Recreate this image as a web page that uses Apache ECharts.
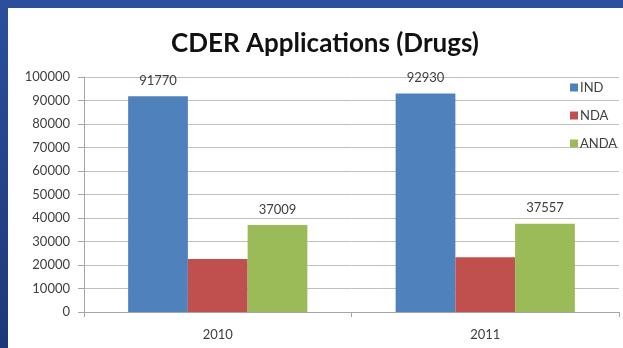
<!DOCTYPE html>
<html><head><meta charset="utf-8">
<script src="https://cdn.jsdelivr.net/npm/echarts@6/dist/echarts.min.js"></script>
<style>html,body{margin:0;padding:0;background:#fff;}#c{width:623px;height:348px;}</style>
</head><body><div id="c"></div>
<script>
const categories = ['2010', '2011'];
const seriesNames = ['IND', 'NDA', 'ANDA'];
const indValues = [91770, 92930];
const ndaValues = [22600, 23300];
const andaValues = [37009, 37557];
const showLabels = [true, false, true];
const colors = ['#4F81BD', '#C0504D', '#9BBB59'];
const allValues = [indValues, ndaValues, andaValues];

const chart = echarts.init(document.getElementById('c'), null, {renderer: 'canvas'});
const txt = '#404040';
chart.setOption({
  animation: false,
  backgroundColor: '#ffffff',
  graphic: [
    {type: 'rect', left: 0, top: 0, shape: {width: 623, height: 8}, style: {fill: '#2B4F9C'}, z: 100},
    {type: 'rect', left: 0, top: 0, shape: {width: 8, height: 348},
     style: {fill: new echarts.graphic.LinearGradient(0, 0, 0, 1, [{offset: 0, color: '#2B4F9C'}, {offset: 1, color: '#1D3877'}])}, z: 100}
  ],
  title: {
    text: 'CDER Applications (Drugs)',
    left: 320, textAlign: 'center', top: 26,
    textStyle: {fontFamily: 'Lato', fontWeight: 'bold', fontSize: 26, color: '#111'}
  },
  legend: {
    orient: 'vertical', left: 565, top: 76, itemGap: 15,
    itemWidth: 8, itemHeight: 8, icon: 'rect',
    textStyle: {fontFamily: 'Lato', fontSize: 13, color: txt, padding: [0, 0, 0, -3]},
    data: seriesNames
  },
  grid: {left: 84, right: 4, top: 77, bottom: 36, containLabel: false},
  xAxis: {
    type: 'category', data: categories,
    axisLine: {lineStyle: {color: '#A6A6A6'}},
    axisTick: {show: true, length: 5, lineStyle: {color: '#A6A6A6'}},
    axisLabel: {fontFamily: 'Lato', fontSize: 13, color: txt, margin: 16}
  },
  yAxis: {
    type: 'value', min: 0, max: 100000, interval: 10000,
    axisLine: {show: true, lineStyle: {color: '#A6A6A6'}},
    axisTick: {show: true, length: 6, lineStyle: {color: '#A6A6A6'}},
    axisLabel: {fontFamily: 'Lato', fontSize: 13, color: txt, margin: 14, formatter: v => String(v)},
    splitLine: {lineStyle: {color: '#BFBFBF'}}
  },
  series: seriesNames.map((n, i) => ({
    name: n, type: 'bar', data: allValues[i],
    barGap: '0%', barCategoryGap: '33%',
    itemStyle: {color: colors[i]},
    label: {show: showLabels[i], position: 'top', distance: 9,
      fontFamily: 'Lato', fontSize: 13, color: txt}
  }))
});
</script></body></html>
